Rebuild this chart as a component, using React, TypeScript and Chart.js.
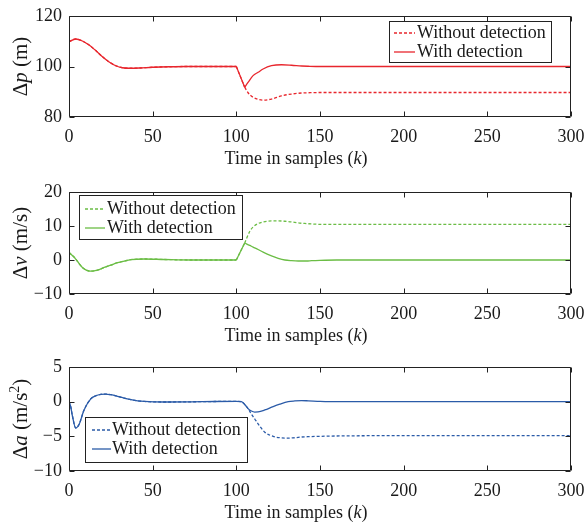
import React, { useEffect, useRef } from 'react';
import { Chart, registerables } from 'chart.js';

Chart.register(...registerables);

const FONT = "'Liberation Serif', 'Times New Roman', Times, serif";

// ---------- data ----------
const xTicks = [0, 50, 100, 150, 200, 250, 300];

// Plot 1: position deviation
const kP = [0, 4, 8, 12, 16, 20, 24, 28, 32, 36, 42, 50, 60, 70, 100, 105, 107, 110, 113, 116, 121, 127, 133, 139, 143, 150, 160, 200, 250, 300];
const pWith = [109.8, 110.9, 110.1, 108.5, 106.3, 103.9, 101.8, 100.3, 99.5, 99.3, 99.4, 99.7, 99.9, 100, 100, 91.8, 93.7, 96.4, 97.7, 99.0, 100.3, 100.7, 100.5, 100.2, 100.1, 100, 100, 100, 100, 100];
const pWithout = [109.8, 110.9, 110.1, 108.5, 106.3, 103.9, 101.8, 100.3, 99.5, 99.3, 99.4, 99.7, 99.9, 100, 100, 91.8, 89.6, 87.8, 87.0, 86.7, 87.1, 88.4, 89.1, 89.5, 89.6, 89.7, 89.7, 89.7, 89.7, 89.7];
const pTicks = [80, 100, 120];

// Plot 2: velocity deviation
const kV = [0, 3, 8, 13, 17, 21, 25, 29, 33, 37, 45, 57, 73, 100, 105, 108, 110, 113, 116, 121, 125, 129, 133, 137, 142, 145, 150, 160, 200, 250, 300];
const vWith = [2.2, 0.9, -2.2, -3.3, -3.0, -2.2, -1.5, -0.8, -0.3, 0.1, 0.3, 0.15, 0, 0, 5.0, 4.3, 3.8, 3.1, 2.3, 1.2, 0.5, 0.0, -0.2, -0.3, -0.3, -0.2, -0.1, 0, 0, 0, 0];
const vWithout = [2.2, 0.9, -2.2, -3.3, -3.0, -2.2, -1.5, -0.8, -0.3, 0.1, 0.3, 0.15, 0, 0, 5.0, 8.4, 9.7, 10.7, 11.2, 11.5, 11.5, 11.4, 11.2, 10.9, 10.7, 10.6, 10.5, 10.5, 10.5, 10.5, 10.5];
const vTicks = [-10, 0, 10, 20];

// Plot 3: acceleration deviation
const kA = [0, 1, 2, 4, 6, 9, 13, 16, 19, 22, 25, 29, 33, 37, 41, 45, 57, 80, 100, 103, 105, 107, 109, 111, 113, 117, 122, 126, 131, 135, 139, 143, 150, 160, 200, 250, 300];
const aWith = [0, -0.7, -2.0, -3.8, -3.3, -1.2, 0.4, 0.85, 1.05, 1.1, 1.0, 0.77, 0.5, 0.29, 0.12, 0.03, -0.05, 0, 0.05, 0, -0.4, -1.0, -1.35, -1.5, -1.48, -1.2, -0.7, -0.35, 0, 0.1, 0.15, 0.12, 0.05, 0, 0, 0, 0];
const aWithout = [0, -0.7, -2.0, -3.8, -3.3, -1.2, 0.4, 0.85, 1.05, 1.1, 1.0, 0.77, 0.5, 0.29, 0.12, 0.03, -0.05, 0, 0.05, 0, -0.4, -1.0, -1.8, -2.5, -3.2, -4.4, -5.0, -5.2, -5.25, -5.2, -5.1, -5.05, -5.0, -4.95, -4.9, -4.9, -4.9];
const aTicks = [-10, -5, 0, 5];

const seriesLabels = ['With detection', 'Without detection'];

// ---------- helpers ----------
type Part = { t: string; italic?: boolean; sup?: boolean };

function drawRich(ctx: CanvasRenderingContext2D, parts: Part[], cx: number, cy: number, size: number, rotate: boolean) {
  ctx.save();
  ctx.translate(cx, cy);
  if (rotate) ctx.rotate(-Math.PI / 2);
  const fonts = parts.map((p) => `${p.italic ? 'italic ' : ''}${p.sup ? Math.round(size * 0.65) : size}px ${FONT}`);
  let total = 0;
  const widths = parts.map((p, i) => {
    ctx.font = fonts[i];
    const w = ctx.measureText(p.t).width;
    total += w;
    return w;
  });
  let x = -total / 2;
  ctx.textBaseline = 'alphabetic';
  ctx.textAlign = 'left';
  ctx.fillStyle = '#1a1a1a';
  const base = size * 0.33;
  parts.forEach((p, i) => {
    ctx.font = fonts[i];
    ctx.fillText(p.t, x, base - (p.sup ? size * 0.4 : 0));
    x += widths[i];
  });
  ctx.restore();
}

const framePlugin = {
  id: 'frame',
  afterDatasetsDraw(chart: any, _args: any, opts: any) {
    const { ctx, chartArea: a, scales } = chart;
    const x = scales.x;
    const y = scales.y;
    ctx.save();
    ctx.strokeStyle = '#222';
    ctx.lineWidth = 1;
    const L = Math.round(a.left) + 0.5;
    const R = Math.round(a.right) - 0.5;
    const T = Math.round(a.top) + 0.5;
    const B = Math.round(a.bottom) - 0.5;
    ctx.beginPath();
    ctx.rect(L, T, R - L, B - T);
    ctx.stroke();
    const tl = 5;
    ctx.beginPath();
    for (const v of opts.xTicks) {
      const px = Math.round(x.getPixelForValue(v)) + 0.5;
      ctx.moveTo(px, B);
      ctx.lineTo(px, B - tl);
      ctx.moveTo(px, T);
      ctx.lineTo(px, T + tl);
    }
    for (const v of opts.yTicks) {
      const py = Math.round(y.getPixelForValue(v)) + 0.5;
      ctx.moveTo(L, py);
      ctx.lineTo(L + tl, py);
      ctx.moveTo(R, py);
      ctx.lineTo(R - tl, py);
    }
    ctx.stroke();

    // legend
    const lg = opts.legend;
    ctx.fillStyle = '#fff';
    ctx.fillRect(lg.x, lg.y, lg.w, lg.h);
    ctx.strokeStyle = '#222';
    ctx.strokeRect(lg.x + 0.5, lg.y + 0.5, lg.w, lg.h);
    lg.rows.forEach((row: any) => {
      ctx.save();
      ctx.strokeStyle = row.color;
      ctx.lineWidth = 1.3;
      ctx.setLineDash(row.dash || []);
      ctx.beginPath();
      ctx.moveTo(lg.lx1, row.y);
      ctx.lineTo(lg.lx2, row.y);
      ctx.stroke();
      ctx.restore();
      ctx.fillStyle = '#1a1a1a';
      ctx.font = `18px ${FONT}`;
      ctx.textBaseline = 'middle';
      ctx.textAlign = 'left';
      ctx.fillText(row.label, lg.tx, row.y);
    });
    ctx.restore();
  },
  afterDraw(chart: any, _args: any, opts: any) {
    const { ctx, chartArea: a } = chart;
    drawRich(ctx, opts.yTitle, 20, (a.top + a.bottom) / 2, 21, true);
    drawRich(ctx, opts.xTitle, 296, a.bottom + 41, 18, false);
  },
};

function pieces(k: number[], v: number[], breaks: number[]) {
  const out: { x: number; y: number }[][] = [];
  let cur: { x: number; y: number }[] = [];
  for (let i = 0; i < k.length; i++) {
    cur.push({ x: k[i], y: v[i] });
    if (breaks.includes(k[i]) && i > 0 && i < k.length - 1) {
      out.push(cur);
      cur = [{ x: k[i], y: v[i] }];
    }
  }
  out.push(cur);
  return out;
}

const xTitle: Part[] = [{ t: 'Time in samples (' }, { t: 'k', italic: true }, { t: ')' }];

type Spec = {
  h: number;
  top: number;
  areaTop: number;
  areaBottom: number;
  k: number[];
  withV: number[];
  withoutV: number[];
  color: string;
  breaks: number[];
  yMin: number;
  yMax: number;
  yTicks: number[];
  yTitle: Part[];
  legend: any;
};

function makeConfig(s: Spec): any {
  const datasets: any[] = [];
  const dash = [3, 2];
  for (const p of pieces(s.k, s.withV, s.breaks)) {
    datasets.push({ data: p, borderColor: s.color, borderWidth: 1.3, pointRadius: 0, cubicInterpolationMode: 'monotone', fill: false, label: seriesLabels[0] });
  }
  for (const p of pieces(s.k, s.withoutV, s.breaks)) {
    datasets.push({ data: p, borderColor: s.color, borderWidth: 1.3, borderDash: dash, pointRadius: 0, cubicInterpolationMode: 'monotone', fill: false, label: seriesLabels[1] });
  }
  const legend = {
    ...s.legend,
    rows: [
      { label: seriesLabels[1], color: s.color, dash, y: s.legend.rowY[0] },
      { label: seriesLabels[0], color: s.color, dash: [], y: s.legend.rowY[1] },
    ],
  };
  return {
    type: 'line',
    data: { datasets },
    plugins: [framePlugin],
    options: {
      responsive: false,
      animation: false,
      events: [],
      layout: { padding: { top: s.areaTop, right: 14, left: 0, bottom: 0 } },
      plugins: {
        legend: { display: false },
        tooltip: { enabled: false },
        frame: { xTicks, yTicks: s.yTicks, legend, yTitle: s.yTitle, xTitle },
      },
      scales: {
        x: {
          type: 'linear',
          min: 0,
          max: 300,
          grid: { display: false, drawTicks: false },
          border: { display: false },
          afterBuildTicks: (sc: any) => {
            sc.ticks = xTicks.map((v) => ({ value: v }));
          },
          afterFit: (sc: any) => {
            sc.height = s.h - s.areaBottom;
            sc.paddingLeft = 0;
            sc.paddingRight = 0;
          },
          ticks: {
            autoSkip: false,
            maxRotation: 0,
            padding: 9,
            color: '#1a1a1a',
            font: { family: FONT, size: 18 },
          },
        },
        y: {
          type: 'linear',
          min: s.yMin,
          max: s.yMax,
          grid: { display: false, drawTicks: false },
          border: { display: false },
          afterBuildTicks: (sc: any) => {
            sc.ticks = s.yTicks.map((v) => ({ value: v }));
          },
          afterFit: (sc: any) => {
            sc.width = 69;
            sc.paddingTop = 0;
            sc.paddingBottom = 0;
          },
          ticks: {
            autoSkip: false,
            padding: 7,
            color: '#1a1a1a',
            font: { family: FONT, size: 18 },
            callback: (v: number) => String(v).replace('-', '\u2212'),
          },
        },
      },
    },
  };
}

const specs: Spec[] = [
  {
    h: 175,
    top: 0,
    areaTop: 16,
    areaBottom: 117,
    k: kP,
    withV: pWith,
    withoutV: pWithout,
    color: '#e8262d',
    breaks: [100, 105],
    yMin: 80,
    yMax: 120,
    yTicks: pTicks,
    yTitle: [{ t: '\u0394' }, { t: 'p', italic: true }, { t: ' (m)' }],
    legend: { x: 389, y: 21, w: 162, h: 41, rowY: [33, 52], lx1: 394, lx2: 415, tx: 417 },
  },
  {
    h: 175,
    top: 175,
    areaTop: 17,
    areaBottom: 119,
    k: kV,
    withV: vWith,
    withoutV: vWithout,
    color: '#6bbd45',
    breaks: [100, 105],
    yMin: -10,
    yMax: 20,
    yTicks: vTicks,
    yTitle: [{ t: '\u0394' }, { t: 'v', italic: true }, { t: ' (m/s)' }],
    legend: { x: 79, y: 20, w: 163, h: 44, rowY: [34, 53], lx1: 85, lx2: 105, tx: 107 },
  },
  {
    h: 173,
    top: 350,
    areaTop: 17,
    areaBottom: 121,
    k: kA,
    withV: aWith,
    withoutV: aWithout,
    color: '#2b5ba8',
    breaks: [],
    yMin: -10,
    yMax: 5,
    yTicks: aTicks,
    yTitle: [{ t: '\u0394' }, { t: 'a', italic: true }, { t: ' (m/s' }, { t: '2', sup: true }, { t: ')' }],
    legend: { x: 85, y: 67, w: 162, h: 45, rowY: [80, 99], lx1: 92, lx2: 111, tx: 112 },
  },
];

function Panel({ spec }: { spec: Spec }) {
  const ref = useRef<HTMLCanvasElement>(null);
  useEffect(() => {
    const chart = new Chart(ref.current as HTMLCanvasElement, makeConfig(spec));
    return () => chart.destroy();
  }, [spec]);
  return (
    <canvas
      ref={ref}
      width={585}
      height={spec.h}
      style={{ position: 'absolute', left: 0, top: spec.top, width: 585, height: spec.h }}
    />
  );
}

export default function App() {
  return (
    <div style={{ position: 'absolute', left: 0, top: 0, width: 585, height: 523, background: '#fff' }}>
      {specs.map((s, i) => (
        <Panel key={i} spec={s} />
      ))}
    </div>
  );
}
